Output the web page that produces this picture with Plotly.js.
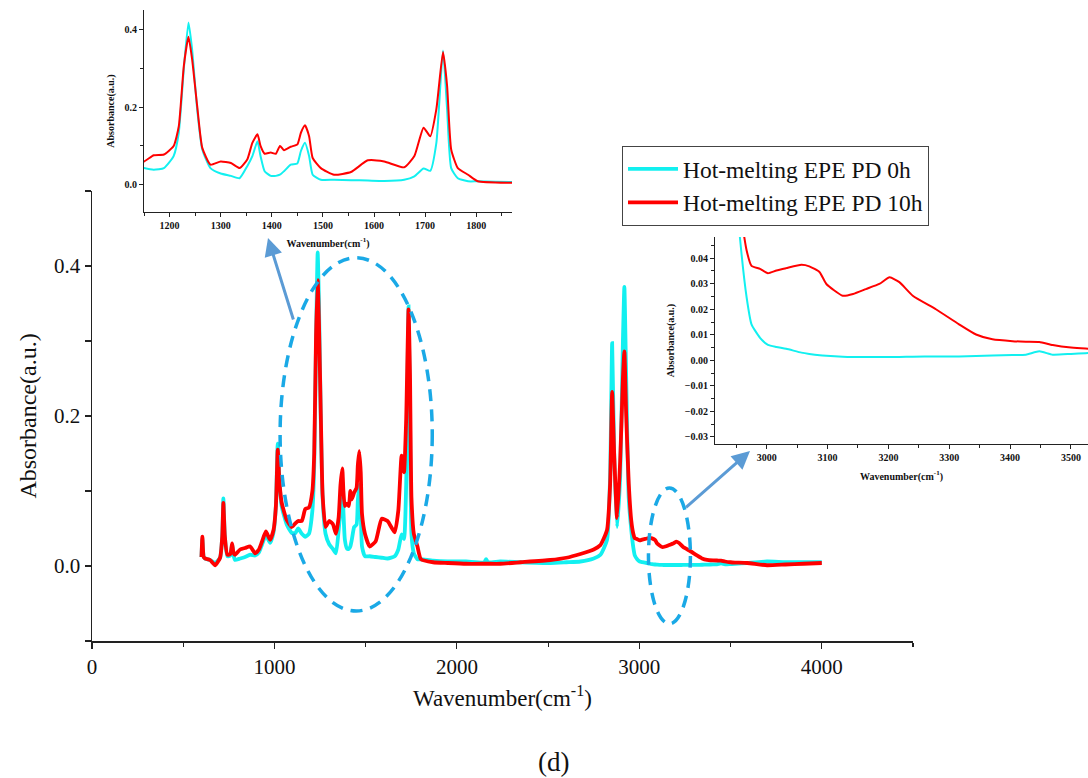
<!DOCTYPE html>
<html>
<head>
<meta charset="utf-8">
<script src="https://cdn.plot.ly/plotly-3.0.1.min.js"></script>
<style>html,body{margin:0;padding:0;background:#fff;}#chart{width:1088px;height:778px;}</style>
</head>
<body>
<div id="chart"></div>
<script>
// Wavenumber (cm-1)
const wavenumber = [600,605,612,620,647,675,702,714,720,728,742,758,768,776,784,812,839,867,894,915,931,953,976,995,1008,1018,1028,1040,1068,1095,1115,1130,1150,1169,1189,1208,1218,1228,1237,1244,1254,1264,1280,1300,1320,1337,1352,1362,1372,1378,1386,1398,1408,1416,1424,1437,1450,1457,1465,1473,1480,1496,1522,1555,1588,1620,1659,1679,1697,1710,1722,1735,1743,1751,1764,1784,1803,1870,1950,2050,2150,2160,2170,2238,2350,2512,2600,2677,2750,2787,2823,2840,2851,2862,2878,2895,2910,2918,2928,2942,2956,2967,2975,2989,3002,3016,3032,3057,3070,3087,3098,3125,3142,3163,3185,3202,3218,3240,3278,3316,3344,3371,3404,3426,3448,3470,3500,3524,3591,3700,3800,3900,4000];
// Hot-melting EPE PD 0h
const absorbance0h = [0.012,0.036,0.012,0.010,0.008,0.004,0.011,0.040,0.090,0.040,0.013,0.014,0.028,0.014,0.008,0.010,0.012,0.015,0.014,0.018,0.028,0.041,0.031,0.045,0.080,0.163,0.110,0.079,0.055,0.044,0.044,0.050,0.043,0.039,0.043,0.074,0.134,0.300,0.418,0.350,0.195,0.091,0.043,0.029,0.023,0.017,0.048,0.074,0.112,0.074,0.035,0.023,0.023,0.026,0.035,0.052,0.055,0.087,0.108,0.074,0.026,0.013,0.013,0.012,0.011,0.010,0.013,0.022,0.042,0.036,0.108,0.346,0.195,0.043,0.017,0.009,0.009,0.007,0.006,0.006,0.005,0.009,0.005,0.006,0.005,0.004,0.005,0.006,0.010,0.015,0.035,0.120,0.297,0.150,0.052,0.120,0.300,0.372,0.250,0.090,0.048,0.0246,0.0141,0.0088,0.0060,0.0052,0.0045,0.0030,0.0025,0.0020,0.0018,0.0014,0.0013,0.0013,0.0013,0.0013,0.0013,0.0014,0.0015,0.0015,0.0017,0.0019,0.0021,0.0022,0.0035,0.0022,0.0025,0.0028,0.004,0.006,0.005,0.005,0.005];
// Hot-melting EPE PD 10h
const absorbance10h = [0.012,0.039,0.012,0.010,0.008,0.001,0.011,0.040,0.084,0.040,0.015,0.016,0.030,0.017,0.015,0.022,0.024,0.026,0.017,0.022,0.032,0.046,0.035,0.048,0.080,0.155,0.110,0.084,0.061,0.052,0.057,0.060,0.060,0.076,0.078,0.100,0.150,0.307,0.381,0.325,0.203,0.095,0.052,0.060,0.056,0.043,0.065,0.108,0.130,0.100,0.080,0.083,0.080,0.100,0.089,0.098,0.104,0.134,0.153,0.125,0.069,0.043,0.026,0.033,0.063,0.060,0.045,0.074,0.147,0.125,0.195,0.342,0.255,0.091,0.043,0.026,0.009,0.005,0.004,0.003,0.003,0.003,0.003,0.003,0.005,0.008,0.011,0.016,0.022,0.028,0.048,0.110,0.232,0.150,0.064,0.140,0.250,0.286,0.200,0.110,0.060,0.043,0.037,0.0358,0.0341,0.0352,0.0361,0.0374,0.0368,0.0345,0.0299,0.0253,0.0260,0.0279,0.0299,0.0325,0.0306,0.0253,0.0200,0.0141,0.0101,0.0082,0.0075,0.0073,0.0072,0.0060,0.0050,0.0046,0.004,0.001,0.002,0.003,0.004];

const seriesNames = ['Hot-melting EPE PD 0h', 'Hot-melting EPE PD 10h'];
const cyan = '#12F0F0', red = '#FF0000';
const serif = '"Liberation Serif", "Times New Roman", Times, serif';

function tr(y, name, color, xa, ya, w, legend) {
  return {x: wavenumber, y: y, name: name, type: 'scatter', mode: 'lines',
    line: {color: color, width: w, shape: 'spline', smoothing: 0.5},
    xaxis: xa, yaxis: ya, showlegend: legend, hoverinfo: 'skip'};
}

const data = [
  tr(absorbance0h, seriesNames[0], cyan, 'x', 'y', 3.8, true),
  tr(absorbance10h, seriesNames[1], red, 'x', 'y', 3.8, true),
  tr(absorbance0h, seriesNames[0], cyan, 'x2', 'y2', 2, false),
  tr(absorbance10h, seriesNames[1], red, 'x2', 'y2', 2, false),
  tr(absorbance0h, seriesNames[0], cyan, 'x3', 'y3', 2, false),
  tr(absorbance10h, seriesNames[1], red, 'x3', 'y3', 2, false)
];

const W = 1088, H = 778;
const px = v => v / W, py = v => 1 - v / H;

const mainTick = {family: serif, size: 21, color: '#111'};
const insetTick = {family: serif, size: 10, color: '#111', weight: 'bold'};
const insetTitle = {family: serif, size: 10, color: '#111', weight: 'bold'};

const layout = {
  width: W, height: H,
  margin: {l: 0, r: 0, t: 0, b: 0},
  paper_bgcolor: '#fff', plot_bgcolor: 'rgba(0,0,0,0)',
  font: {family: serif, color: '#111'},
  xaxis: {domain: [px(92), px(913)], range: [0, 4500], anchor: 'y',
    tick0: 0, dtick: 1000, ticks: 'outside', ticklen: 6, tickwidth: 1.2, tickcolor: '#222',
    minor: {ticks: 'outside', dtick: 500, ticklen: 4, tickcolor: '#222'},
    showline: true, linecolor: '#222', linewidth: 1.5, showgrid: false, zeroline: false,
    tickfont: mainTick,
    title: {text: 'Wavenumber(cm<sup>-1</sup>)', font: {family: serif, size: 23, color: '#111'}, standoff: 12}},
  yaxis: {domain: [py(641), py(191)], range: [-0.1, 0.5], anchor: 'x',
    tick0: 0, dtick: 0.2, tickformat: '.1f', ticks: 'outside', ticklen: 6, tickwidth: 1.2, tickcolor: '#222',
    minor: {ticks: 'outside', dtick: 0.1, ticklen: 6, tickcolor: '#222'},
    showline: true, linecolor: '#222', linewidth: 1.5, showgrid: false, zeroline: false,
    tickfont: mainTick,
    title: {text: 'Absorbance(a.u.)', font: {family: serif, size: 24, color: '#111'}, standoff: 10}},
  xaxis2: {domain: [px(144), px(512)], range: [1150, 1870], anchor: 'y2',
    tick0: 1200, dtick: 100, ticks: 'outside', ticklen: 4, tickcolor: '#222',
    minor: {ticks: 'outside', dtick: 50, ticklen: 3, tickcolor: '#222'},
    showline: true, linecolor: '#222', linewidth: 1, showgrid: false, zeroline: false,
    tickfont: insetTick,
    title: {text: 'Wavenumber(cm<sup>-1</sup>)', font: insetTitle, standoff: 9}},
  yaxis2: {domain: [py(212), py(10)], range: [-0.07, 0.45], anchor: 'x2',
    tick0: 0, dtick: 0.2, tickformat: '.1f', ticks: 'outside', ticklen: 4, tickcolor: '#222',
    minor: {ticks: 'outside', dtick: 0.1, ticklen: 3, tickcolor: '#222'},
    showline: true, linecolor: '#222', linewidth: 1, showgrid: false, zeroline: false,
    tickfont: insetTick,
    title: {text: 'Absorbance(a.u.)', font: insetTitle, standoff: 8}},
  xaxis3: {domain: [px(715), 1], range: [2915, 3528], anchor: 'y3',
    tick0: 3000, dtick: 100, ticks: 'outside', ticklen: 4, tickcolor: '#222',
    minor: {ticks: 'outside', dtick: 50, ticklen: 3, tickcolor: '#222'},
    showline: true, linecolor: '#222', linewidth: 1, showgrid: false, zeroline: false,
    tickfont: insetTick,
    title: {text: 'Wavenumber(cm<sup>-1</sup>)', font: insetTitle, standoff: 10}},
  yaxis3: {domain: [py(444), py(237)], range: [-0.0328, 0.0483], anchor: 'x3',
    tick0: 0, dtick: 0.01, tickformat: '.2f', ticks: 'outside', ticklen: 4, tickcolor: '#222',
    minor: {ticks: 'outside', dtick: 0.005, ticklen: 3, tickcolor: '#222'},
    showline: true, linecolor: '#222', linewidth: 1, showgrid: false, zeroline: false,
    tickfont: insetTick,
    title: {text: 'Absorbance(a.u.)', font: insetTitle, standoff: 8}},
  showlegend: true,
  legend: {x: px(622), y: py(146), xanchor: 'left', yanchor: 'top',
    bgcolor: '#fff', bordercolor: '#444', borderwidth: 1,
    font: {family: serif, size: 23.5, color: '#111'}, itemwidth: 50, tracegroupgap: 0},
  shapes: [
    {type: 'circle', xref: 'x', yref: 'y', x0: 1031, x1: 1865, y0: -0.06, y1: 0.411,
      line: {color: '#1AA9E6', width: 3.5, dash: '12px,8px'}},
    {type: 'circle', xref: 'x', yref: 'y', x0: 3050, x1: 3280, y0: -0.077, y1: 0.104,
      line: {color: '#1AA9E6', width: 3.5, dash: '12px,8px'}}
  ],
  annotations: [
    {xref: 'paper', yref: 'paper', x: px(268), y: py(238), ax: 28, ay: 90, text: ' ',
      showarrow: true, arrowhead: 2, arrowsize: 1.2, arrowwidth: 3, arrowcolor: '#5B9BD5'},
    {xref: 'paper', yref: 'paper', x: px(750), y: py(451), ax: -67, ay: 59, text: ' ',
      showarrow: true, arrowhead: 2, arrowsize: 1.2, arrowwidth: 3, arrowcolor: '#5B9BD5'},
    {xref: 'paper', yref: 'paper', x: px(553), y: py(762), text: '(d)', showarrow: false,
      font: {family: serif, size: 27, color: '#111'}, xanchor: 'center', yanchor: 'middle'}
  ]
};

Plotly.newPlot('chart', data, layout, {displayModeBar: false, staticPlot: true});
</script>
</body>
</html>
